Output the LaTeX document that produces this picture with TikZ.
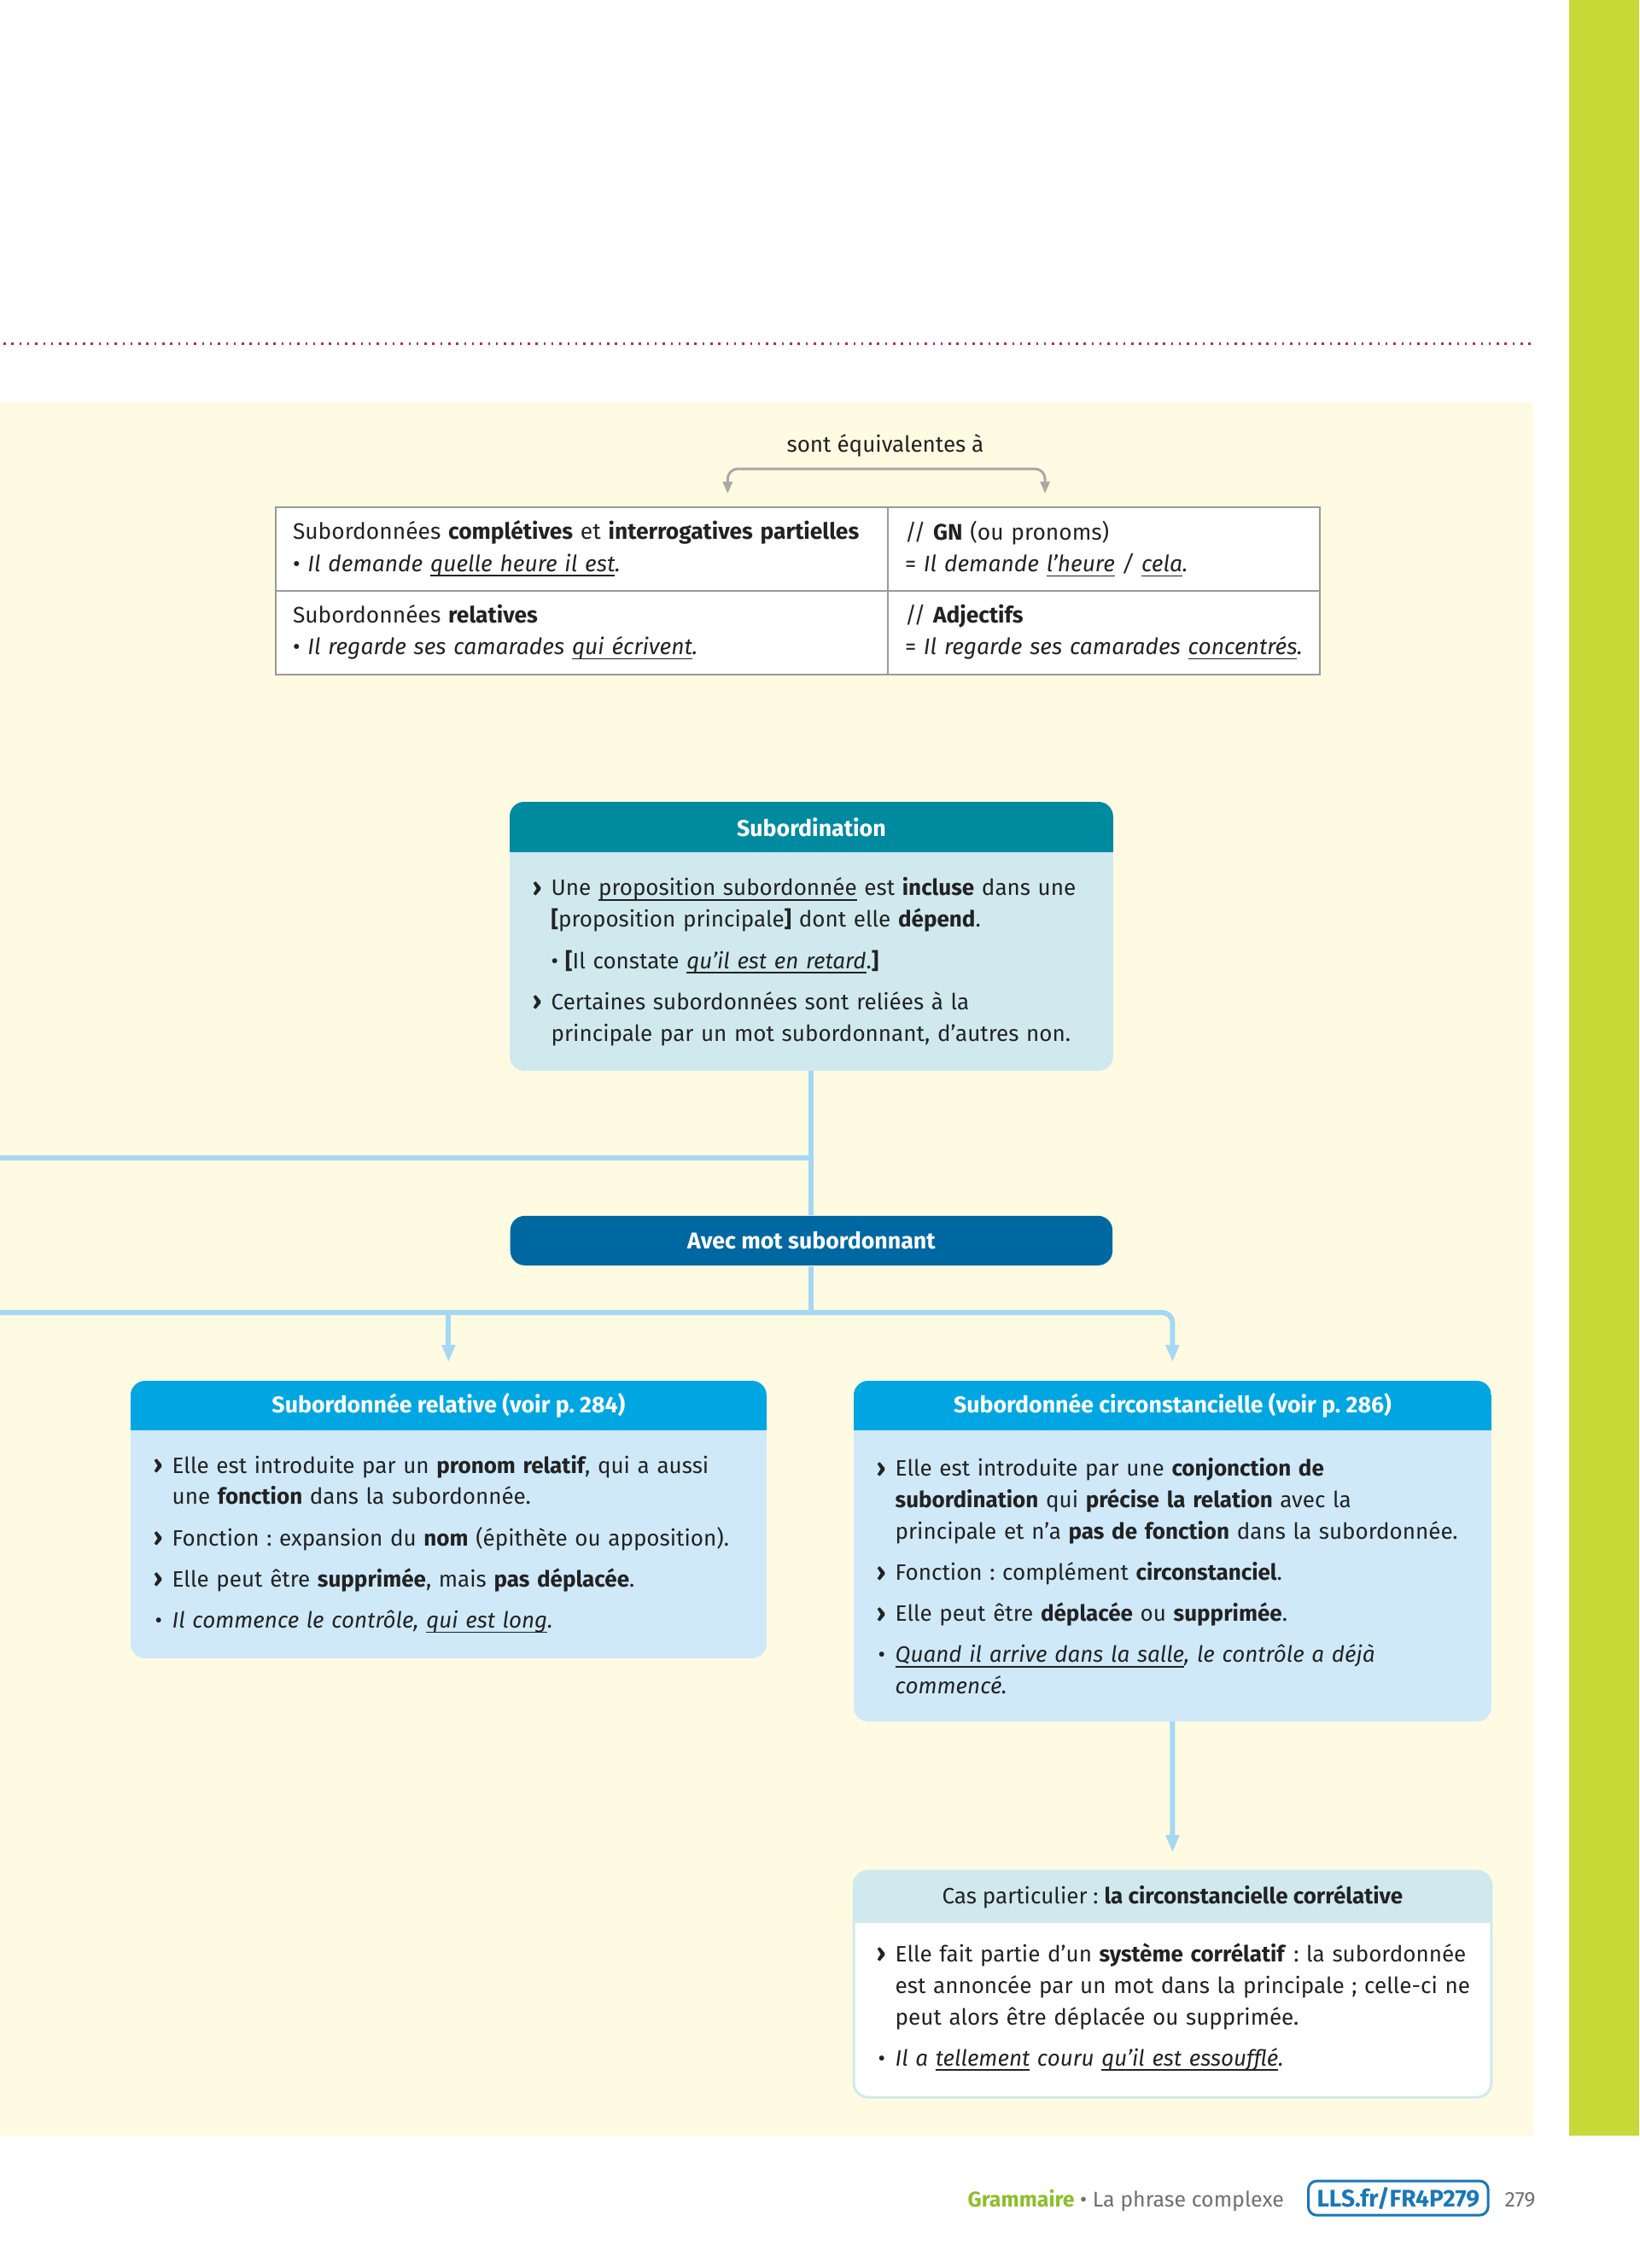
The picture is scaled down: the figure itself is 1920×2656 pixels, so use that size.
\documentclass[tikz,border=0pt]{standalone}
\usepackage{fontspec}
\setmainfont{Fira Sans}
\usetikzlibrary{arrows.meta, positioning, calc, backgrounds}
\definecolor{pageYellow}{HTML}{FEFBE2}
\definecolor{barGreen}{HTML}{C6D936}
\definecolor{dotRed}{HTML}{C0284E}
\definecolor{subTeal}{HTML}{008AA0}
\definecolor{subPale}{HTML}{D0E9EF}
\definecolor{avecBlue}{HTML}{0068A1}
\definecolor{relCyan}{HTML}{00A6E2}
\definecolor{relPale}{HTML}{CFE9F9}
\definecolor{linkBlue}{HTML}{A5D8F2}
\definecolor{inkDark}{HTML}{222222}
\definecolor{tabGrey}{HTML}{9A9A9A}
\definecolor{brkGrey}{HTML}{A8A8A8}
\definecolor{footGreen}{HTML}{8DBE2C}
\definecolor{footBlue}{HTML}{1A78B8}
\definecolor{footGrey}{HTML}{707070}

\frenchspacing
\hyphenpenalty=10000
\newlength{\ptind}\setlength{\ptind}{0.30cm}
\newlength{\itemgap}\setlength{\itemgap}{3.2pt}
% chevron item, example item, gap between items
\newcommand{\chev}{\hangindent=\ptind\hangafter=1\makebox[\ptind][l]{\hspace{0.08cm}\raisebox{-0.15pt}{\fontsize{8.6}{10}\selectfont\textbf{›}}}}
\newcommand{\expl}{\hangindent=\ptind\hangafter=1\makebox[\ptind][l]{\hspace{0.1cm}•}}
\newcommand{\nextpt}{\par\vspace{\itemgap}}
\newcommand{\uln}[1]{\underline{\smash{#1}}}

\begin{document}
\begin{tikzpicture}[x=0.01cm, y=-0.01cm,
    every node/.style={font=\fontsize{7.4}{10.5}\selectfont, text=inkDark},
    cell/.style={draw=tabGrey, line width=0.02cm, fill=white, anchor=north west,
                 align=left, inner xsep=0.2cm, inner ysep=0pt, minimum height=0.98cm,
                 font=\fontsize{7.5}{10.6}\selectfont},
    hdr/.style={anchor=north west, minimum height=0.58cm, inner sep=0pt,
                font=\fontsize{7.6}{10.5}\selectfont\bfseries, text=white},
    body/.style={align=left, inner xsep=0.18cm, inner ysep=0pt},
    link/.style={draw=linkBlue, line width=0.06cm},
    arrowed/.style={-{Triangle[length=0.2cm, width=0.15cm]}},
    bracket/.style={draw=brkGrey, line width=0.03cm, rounded corners=0.12cm,
                    {Triangle[length=0.14cm, width=0.11cm]}-{Triangle[length=0.14cm, width=0.11cm]}},
  ]
    \useasboundingbox (0,0) rectangle (1920,2656);

    % page
    \begin{scope}[on background layer]
      \fill[white] (0,0) rectangle (1920,2656);
      \fill[pageYellow] (0,471) rectangle (1796,2501);
      \fill[barGreen] (1838,0) rectangle (1920,2501);
    \end{scope}
    \draw[dotRed, line width=0.03cm, dash pattern=on 0.025cm off 0.068cm] (4,402) -- (1796,402);

    % table
    \node (lbl) at (1037,522) {sont équivalentes à};
    \node[cell, text width=6.77cm] (tA) at (322,593)
      {Subordonnées \textbf{complétives} et \textbf{interrogatives partielles}\\
       • \textit{Il demande \uln{quelle heure il est}.}};
    \node[cell, text width=4.66cm] (tB) at (1039,593)
      {// \textbf{GN} (ou pronoms)\\
       = \textit{Il demande \uln{l’heure} / \uln{cela}.}};
    \node[cell, text width=6.77cm] (tC) at (322,691)
      {Subordonnées \textbf{relatives}\\
       • \textit{Il regarde ses camarades \uln{qui écrivent}.}};
    \node[cell, text width=4.66cm] (tD) at (1039,691)
      {// \textbf{Adjectifs}\\
       = \textit{Il regarde ses camarades \uln{concentrés}.}};
    \coordinate (brkL) at ([xshift=1.705cm, yshift=0.15cm]tA.north);
    \coordinate (brkR) at ([xshift=-0.69cm, yshift=0.15cm]tB.north);
    \draw[bracket] (brkL) -- ++(0,-29) -| (brkR);

    % subordination
    \node[hdr, minimum width=7.05cm] (subH) at (597,939) {Subordination};
    \node[body, text width=6.69cm, minimum height=2.54cm, below=0pt of subH] (subB)
      {\chev Une \uln{proposition subordonnée} est \textbf{incluse} dans une\newline
       \textbf{[}proposition principale\textbf{]} dont elle \textbf{dépend}.
       \nextpt\hspace*{\ptind}•\hspace{0.08cm}\textbf{[}Il constate \textit{\uln{qu’il est en retard}}.\textbf{]}
       \nextpt\chev Certaines subordonnées sont reliées à la\newline
       principale par un mot subordonnant, d’autres non.\par};

    \node[hdr, minimum width=7.05cm, fill=avecBlue, rounded corners=0.17cm,
          below=1.69cm of subB] (avec) {Avec mot subordonnant};

    % relative
    \node[hdr, minimum width=7.43cm, minimum height=0.57cm] (relH) at (153,1617)
      {Subordonnée relative (voir p. 284)};
    \node[body, text width=7.07cm, minimum height=2.65cm, below=0pt of relH] (relB)
      {\chev Elle est introduite par un \textbf{pronom relatif}, qui a aussi\newline
       une \textbf{fonction} dans la subordonnée.
       \nextpt\chev Fonction~: expansion du \textbf{nom} (épithète ou apposition).
       \nextpt\chev Elle peut être \textbf{supprimée}, mais \textbf{pas déplacée}.
       \nextpt\expl\textit{Il commence le contrôle, \uln{qui est long}.}\par};

    % circonstancielle
    \node[hdr, minimum width=7.45cm, minimum height=0.57cm] (cirH) at (1000,1617)
      {Subordonnée circonstancielle (voir p. 286)};
    \node[body, text width=7.09cm, minimum height=3.39cm, below=0pt of cirH] (cirB)
      {\chev Elle est introduite par une \textbf{conjonction de}\newline
       \textbf{subordination} qui \textbf{précise la relation} avec la\newline
       principale et n’a \textbf{pas de fonction} dans la subordonnée.
       \nextpt\chev Fonction~: complément \textbf{circonstanciel}.
       \nextpt\chev Elle peut être \textbf{déplacée} ou \textbf{supprimée}.
       \nextpt\expl\textit{\uln{Quand il arrive dans la salle}, le contrôle a déjà}\newline
       \textit{commencé.}\par};

    % cas particulier
    \node[hdr, minimum width=7.45cm, minimum height=0.59cm, text=inkDark,
          font=\fontsize{7.4}{10.5}\selectfont, below=1.75cm of cirB.south west, anchor=north west] (casH)
      {Cas particulier~: \textbf{la circonstancielle corrélative}};
    \node[body, text width=7.09cm, minimum height=2.03cm, below=0pt of casH] (casB)
      {\chev Elle fait partie d’un \textbf{système corrélatif}~: la subordonnée\newline
       est annoncée par un mot dans la principale~; celle-ci ne\newline
       peut alors être déplacée ou supprimée.
       \nextpt\expl\textit{Il a \uln{tellement} couru \uln{qu’il est essoufflé}.}\par
       \vspace{0.06cm}};

    % box fills
    \begin{scope}[on background layer]
      \foreach \h/\b/\hc/\bc in {subH/subB/subTeal/subPale, relH/relB/relCyan/relPale,
                                 cirH/cirB/relCyan/relPale, casH/casB/subPale/white} {
        \fill[\bc, rounded corners=0.17cm] (\h.north west) rectangle (\b.south east);
        \begin{scope}
          \clip[rounded corners=0.17cm] (\h.north west) rectangle (\b.south east);
          \fill[\hc] (\h.north west) rectangle (\h.south east);
        \end{scope}
      }
      \draw[subPale, line width=0.03cm, rounded corners=0.17cm] (casH.north west) rectangle (casB.south east);
    \end{scope}

    % connectors
    \coordinate (westA) at (0,1356);
    \coordinate (westB) at (0,1537);
    \draw[link] (subB.south) -- (avec.north);
    \draw[link] (westA) -- (westA -| subB.south);
    \draw[link] (avec.south) -- (westB -| avec.south);
    \draw[link, arrowed, rounded corners=0.12cm] (westB) -| ([yshift=0.22cm]cirH.north);
    \draw[link, arrowed] (westB -| relH.north) -- ([yshift=0.22cm]relH.north);
    \draw[link, arrowed] (cirB.south) -- ([yshift=0.22cm]casH.north);

    % footer
    \node[anchor=base west, inner sep=0pt, font=\fontsize{7.1}{9}\selectfont] (foot) at (1133,2584)
      {\textcolor{footGreen}{\textbf{Grammaire}} \textcolor{footGrey}{• La phrase complexe}};
    \node[anchor=base west, draw=footBlue, line width=0.03cm, rounded corners=0.1cm,
          inner xsep=0.1cm, inner ysep=0.07cm, text=footBlue,
          font=\fontsize{8}{10}\selectfont\bfseries] (lls) at (1531,2584) {LLS.fr/FR4P279};
    \node[anchor=base west, inner sep=0pt, text=footGrey, font=\fontsize{7.1}{9}\selectfont] (pnum) at (1762,2584) {279};
\end{tikzpicture}
\end{document}
